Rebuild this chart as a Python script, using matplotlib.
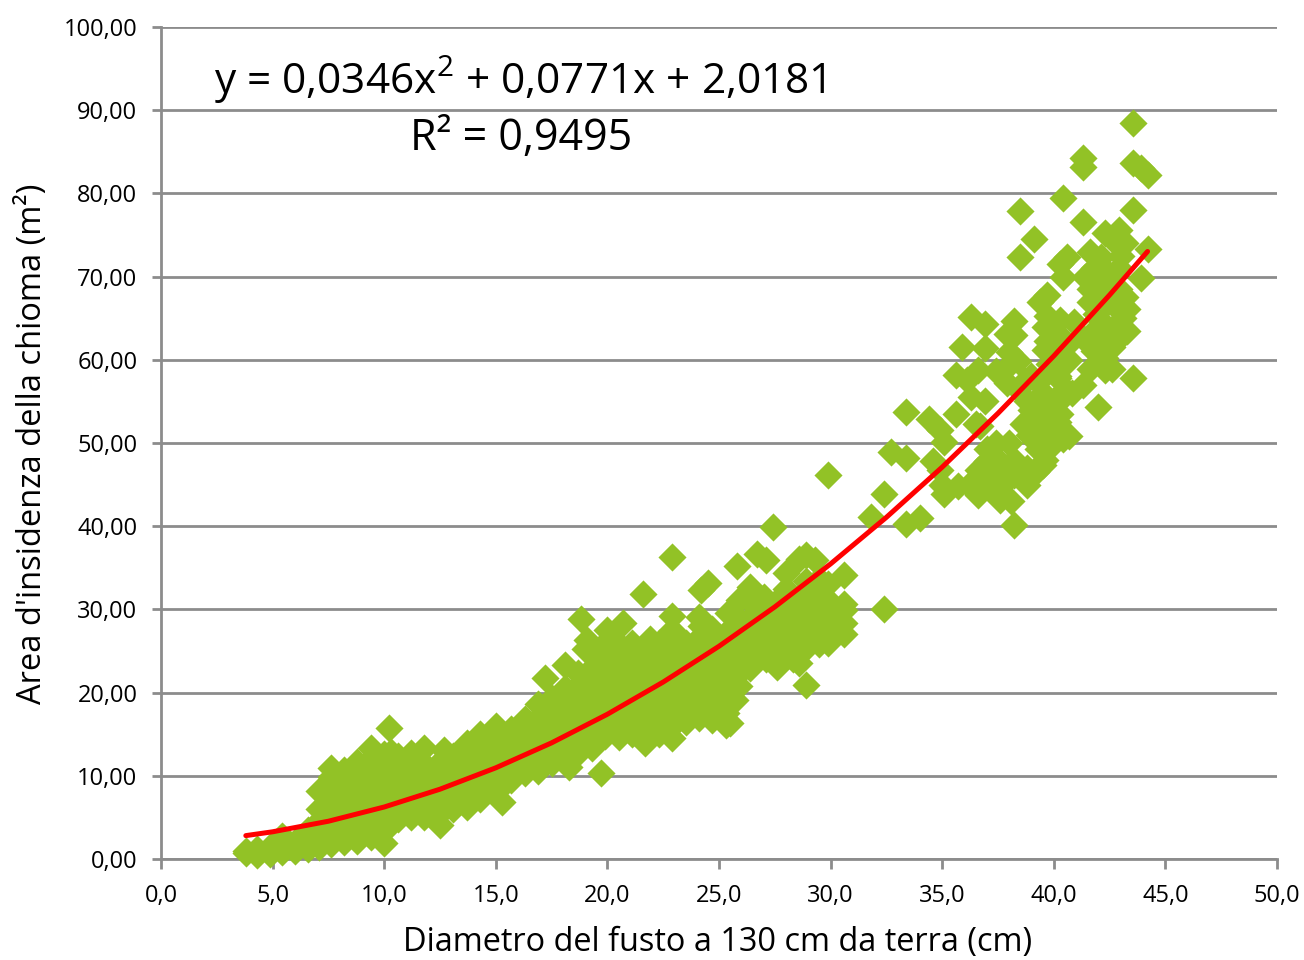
# Area di insidenza della chioma vs diametro del fusto
import matplotlib
matplotlib.use("Agg")
import matplotlib.pyplot as plt

plt.rcParams['font.family'] = ['Open Sans', 'DejaVu Sans']
plt.rcParams['mathtext.fontset'] = 'custom'
plt.rcParams['mathtext.rm'] = 'Open Sans'

# punti: (diametro, area)
cloud_small = [
    (3.8,.7),(3.8,1.0),(4.3,.5),(4.3,1.2),(4.9,.6),(4.9,1.5),(5.4,.8),(5.4,1.7),(5.4,2.8),
    (6.0,1.0),(6.0,2.0),(6.6,1.2),(6.6,2.4),(6.6,3.5),(7.1,1.5),(7.1,3),(7.1,4.6),(7.1,6),(7.1,8.2),
    (7.6,1.8),(7.6,3.4),(7.6,5),(7.6,6.6),(7.6,8.3),(7.6,9.8),(7.6,10.9),
    (8.2,2),(8.2,3.5),(8.2,5),(8.2,6.5),(8.2,8),(8.2,9.6),(8.2,10.7),
    (8.8,2.2),(8.8,3.8),(8.8,5.4),(8.8,7),(8.8,8.6),(8.8,10.2),(8.8,11.6),
    (9.4,2.6),(9.4,4.2),(9.4,5.8),(9.4,7.4),(9.4,9),(9.4,10.6),(9.4,12),(9.4,13.4),
    (10,1.9),(10,3.4),(10,5),(10,6.6),(10,8.2),(10,9.8),(10,11.2),(10,12.6),(10.2,15.7),(10.3,12.9),
    (10.6,4.8),(10.6,6.3),(10.6,7.9),(10.6,9.5),(10.6,11),(10.6,12.4),
    (11.2,5),(11.2,6.6),(11.2,8.2),(11.2,9.8),(11.2,11),(11.2,12.8),
    (11.8,5),(11.8,6.6),(11.8,8.2),(11.8,9.8),(11.8,11.4),(11.8,13.4),
    (12.5,4.1),(12.5,5.5),(12.5,7),(12.5,8.6),(12.5,10.2),(12.5,11.6),(12.7,13.1),
    (13.1,6),(13.1,7.6),(13.1,9.2),(13.1,10.8),(13.1,12.4),
    (13.7,6.3),(13.7,7.9),(13.7,9.5),(13.7,11.1),(13.7,12.8),(13.7,14),
    (14.3,7.2),(14.3,8.8),(14.3,10.4),(14.3,12),(14.3,13.6),(14.3,15),
    (15,8),(15,9.6),(15,11.2),(15,12.8),(15,14.4),(15,16),(15.3,6.8),
]
cloud_mid = [
    (15.7,9.5),(15.7,11),(15.7,12.6),(15.7,14.2),(15.7,15.6),
    (16.3,10.3),(16.3,11.9),(16.3,13.5),(16.3,15),(16.3,16.8),
    (16.9,10.6),(16.9,12.2),(16.9,13.8),(16.9,15.4),(16.9,17),(16.9,18.6),
    (17.5,11.5),(17.5,13),(17.5,14.6),(17.5,16.2),(17.5,17.8),(17.5,19.4),(17.2,21.8),
    (18.3,11.1),(18.1,12.5),(18.1,14.1),(18.1,15.7),(18.1,17.3),(18.1,18.9),(18.1,20.5),(18.1,23.3),
    (18.7,12.8),(18.7,14.4),(18.7,16),(18.7,17.6),(18.7,19.2),(18.7,20.8),(18.7,22.4),(18.8,28.8),
    (19.3,13.4),(19.3,15),(19.3,16.6),(19.3,18.2),(19.3,19.8),(19.3,21.4),(19.3,23),(19.1,26.3),(19,25.2),(19.7,10.3),
    (19.9,14.8),(19.9,16.4),(19.9,18),(19.9,19.6),(19.9,21.2),(19.9,22.8),(19.9,24.4),(19.9,26),(20,27.5),
    (20.5,14.7),(20.5,16.3),(20.5,17.9),(20.5,19.5),(20.5,21.1),(20.5,22.7),(20.5,24.3),(20.5,25.9),
    (21.1,15),(21.1,16.6),(21.1,18.2),(21.1,19.8),(21.1,21.4),(21.1,23),(21.1,24.6),(21.1,26),(20.7,28.4),
    (21.7,13.9),(21.7,15.4),(21.7,17),(21.7,18.6),(21.7,20.2),(21.7,21.8),(21.7,23.4),(21.7,25),(21.9,26.5),(21.6,31.9),
    (22.3,15),(22.3,16.6),(22.3,18.2),(22.3,19.8),(22.3,21.4),(22.3,23),(22.3,24.6),(22.3,26),
    (22.9,14.5),(22.9,16),(22.9,17.6),(22.9,19.2),(22.9,20.8),(22.9,22.4),(22.9,24),(22.9,25.6),(22.9,27.5),(22.9,29.2),(22.9,36.3),
    (23.5,16.5),(23.5,18.1),(23.5,19.7),(23.5,21.3),(23.5,22.9),(23.5,24.5),(23.5,26),
    (24.1,17),(24.1,18.6),(24.1,20.2),(24.1,21.8),(24.1,23.4),(24.1,25),(24.1,26.6),(24.2,28),(24.1,29.1),(24.2,32.3),(24.5,33.2),
    (24.7,16.7),(24.7,18),(24.7,19.6),(24.7,21.2),(24.7,22.8),(24.7,24.4),(24.7,26),(24.7,27.6),
    (25.3,16.1),(25.5,16.3),(25.3,17.6),(25.3,19.2),(25.3,20.8),(25.3,22.4),(25.3,24),(25.3,25.6),(25.3,27.2),(25.4,29.6),
    (25.7,19.1),(25.9,20.8),(25.9,22.4),(25.9,24),(25.9,25.6),(25.9,27.2),(25.9,28.8),(25.9,31.1),(25.8,35.2),
    (26.4,22.9),(26.5,24.4),(26.5,26),(26.5,27.6),(26.5,29.2),(26.5,30.8),(26.4,32.7),(26.7,36.7),
    (27.1,24),(27.1,25.4),(27.1,27),(27.1,28.6),(27.1,30.2),(27,31.5),(27.1,35.9),(27.4,39.9),
    (27.6,23.1),(27.7,24.8),(27.7,26.4),(27.7,28),(27.7,29.6),(27.7,31.2),
    (28.3,24),(28.3,25.6),(28.3,27.2),(28.3,28.8),(28.3,30.4),(28,32.5),(28,34.4),
    (28.6,23.5),(28.9,20.9),(28.9,25.4),(28.9,27),(28.9,28.6),(28.9,30.2),(28.9,31.8),(28.9,33.4),(28.9,36.5),(28.6,36),(29.3,35.9),
    (29.5,25.8),(29.5,27.4),(29.5,29),(29.5,30.6),(29.5,32.2),(29.5,33.6),
    (29.9,26),(30,27.6),(30,29.2),(30,30.8),(29.9,33),(29.9,46.1),
    (30.6,27.1),(30.6,28.4),(30.6,29.9),(30.6,30.7),(30.6,34.1),
]
cloud_big = [
    (31.8,41.1),(32.4,30.1),(32.4,43.9),(32.7,48.9),(33.4,40.3),(33.4,48.2),(33.4,53.7),(34,41),
    (34.4,52.9),(34.6,47.8),(34.9,51.6),(34.9,46.8),(35,44.9),(35.1,43.9),(35.1,50.1),(35.6,53.5),(35.6,58.2),
    (35.7,44.8),(35.9,61.5),(36.1,57.6),(36.2,44.9),(36.3,55.5),(36.3,65.1),(36.5,52.3),(36.6,46.8),(36.6,43.8),
    (36.6,58.8),(36.7,52),(36.9,55.1),(36.9,61.4),(36.9,64.3),(37,47.8),(37,49.3),(37.4,50),(37.4,58.6),
    (37.6,43.2),(37.6,47.7),(37.9,57.2),(37.9,59.1),(37.9,63.1),(38,50),(38,60.9),(38.1,43),(38.2,40.2),
    (38.2,48),(38.2,63),(38.2,64.7),(38.4,59.9),(38.5,72.4),(38.5,77.9),(38.6,52.3),(38.8,44.9),(38.9,51),
    (39.1,52.2),(39.1,74.5),(39.3,49.3),(39.3,57.3),(39.4,55.7),(39.4,66.9),(39.5,47.3),(39.6,48),(39.6,61.2),
    (39.7,62.2),(39.7,65.3),(39.7,67.8),(39.9,58.8),(40,50),(40.1,54.7),(40.1,63),(40.2,57.8),(40.2,58.1),
    (40.3,59.9),(40.3,64.8),(40.3,71.5),(40.4,50.5),(40.4,70),(40.4,79.4),(40.5,61.5),(40.6,72.4),(40.7,50.8),
    (40.8,56),(40.9,64.5),(41.3,57),(41.3,62.6),(41.3,76.6),(41.3,83.2),(41.3,84.2),(41.6,58.9),(41.6,67),
    (41.6,68.5),(41.6,73),(41.8,71),(42,54.3),(42.1,72.3),(42.2,66.6),(42.3,58.8),(42.3,61.7),(42.3,75.2),
    (42.6,58.9),(42.6,63.5),(42.6,68),(42.6,74.5),(42.9,66),(42.9,71),(42.9,75.6),(43,62.9),(43.2,74),
    (43.3,66.1),(43.55,57.8),(43.55,78),(43.55,83.6),(43.55,88.5),(43.9,69.8),(43.9,83),(44.2,73.3),(44.2,82.2),
]
cloud_big_fill = [
    (36.8,46),(37.5,46),(38.2,46.2),(38.8,47),(39.2,46.5),(36.5,45),(37.2,45),(37.9,45.5),
    (39,54),(39.6,53),(40.2,52.5),(39.2,51.2),(39.8,51),(38.8,55),(40.3,53.5),
    (38.4,56.5),(39,58),(38.7,57.5),(39.5,56),(40.5,56.5),
    (39.6,64),(40,61),(40.7,60),(40.4,62.5),(39.8,59.5),
    (41.8,61),(41.6,63),(42,65),(42.8,64),(43.3,63.5),(42.6,61.5),(42.3,60.2),(41.9,65.5),(43.1,65),
    (41.7,69.5),(42.3,69.5),(42.2,68),(41.4,70),(42.4,70.5),(42.9,68.5),(43.2,67.5),(43,72.5),
]

# linea di tendenza
trend_x = [3.8,5,7.5,10,12.5,15,17.5,20,22.5,25,27.5,30,32.5,35,37.5,40,42.5,44.2]
trend_y = [2.81,3.27,4.54,6.25,8.39,10.96,13.96,17.40,21.27,25.57,30.30,35.47,41.07,47.10,53.57,60.46,67.79,73.02]

x_ticks = [0,5,10,15,20,25,30,35,40,45,50]
x_labels = ['0,0','5,0','10,0','15,0','20,0','25,0','30,0','35,0','40,0','45,0','50,0']
y_ticks = [0,10,20,30,40,50,60,70,80,90,100]
y_labels = ['0,00','10,00','20,00','30,00','40,00','50,00','60,00','70,00','80,00','90,00','100,00']

grey = '#8c8c8c'

fig = plt.figure(figsize=(13.04, 9.6), dpi=100)
ax = fig.add_axes([161/1304, 1-859/960, (1277-161)/1304, (859-27)/960])

points = cloud_small + cloud_mid + cloud_big + cloud_big_fill
ax.scatter([p[0] for p in points], [p[1] for p in points], marker='D', s=205,
           color='#92c226', linewidths=0, zorder=3, clip_on=False)
ax.plot(trend_x, trend_y, color='#ff0000', lw=3.6, solid_capstyle='round', zorder=4)

ax.set_xlim(0, 50)
ax.set_ylim(0, 100)
ax.set_xticks(x_ticks)
ax.set_xticklabels(x_labels)
ax.set_yticks(y_ticks)
ax.set_yticklabels(y_labels)
ax.tick_params(axis='x', labelsize=17, color=grey, width=2, length=7, pad=11)
ax.tick_params(axis='y', labelsize=17, color=grey, width=2, length=6.5, pad=10.5)
ax.grid(axis='y', color=grey, lw=2)
ax.set_axisbelow(True)
ax.spines['top'].set_visible(False)
ax.spines['right'].set_visible(False)
ax.spines['left'].set_color(grey)
ax.spines['left'].set_linewidth(2)
ax.spines['bottom'].set_color(grey)
ax.spines['bottom'].set_linewidth(2)

fig.text(718/1304, 1-942/960, 'Diametro del fusto a 130 cm da terra (cm)', fontsize=23.4,
         ha='center', va='center')
fig.text(33/1304, 1-444/960, "Area d'insidenza della chioma (m²)", fontsize=23.5,
         rotation=90, ha='center', va='center')
fig.text(520/1304, 1-80/960, 'y = 0,0346x$^{2}$ + 0,0771x + 2,0181', fontsize=30.5,
         ha='center', va='center')
fig.text(521/1304, 1-139/960, 'R² = 0,9495', fontsize=31, ha='center', va='center')

plt.savefig('out.png', dpi=100)
